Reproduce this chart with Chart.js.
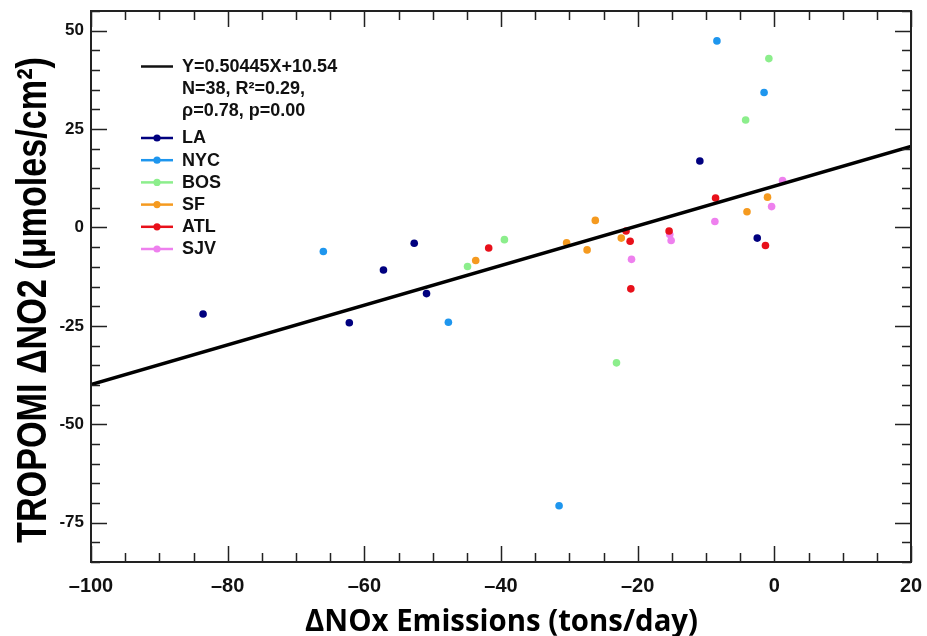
<!DOCTYPE html>
<html>
<head>
<meta charset="utf-8">
<title>TROPOMI ΔNO2 vs ΔNOx</title>
<script src="https://cdn.jsdelivr.net/npm/chart.js@4"></script>
<style>
  html, body { margin: 0; padding: 0; background: #fff; }
  #wrap { width: 927px; height: 636px; position: relative; }
</style>
</head>
<body>
<div id="wrap"><canvas id="chart"></canvas></div>
<script>
'use strict';

// ── Data ──────────────────────────────────────────────────────────────────────

const cities     = ['LA', 'NYC', 'BOS', 'SF', 'ATL', 'SJV'];
const cityColors = ['#00007f', '#1e96ee', '#8cee8c', '#f59a1f', '#e8101a', '#ee80ee'];

const laX  = [-83.6, -62.2, -57.2, -52.7, -50.9, -10.9, -2.5];
const laY  = [-22.0, -24.2, -10.8, -4.0, -16.8, 16.9, -2.7];
const nycX = [-66.0, -47.7, -31.5, -8.4, -1.5];
const nycY = [-6.1, -24.1, -70.7, 47.4, 34.3];
const bosX = [-44.9, -39.5, -23.1, -4.2, -0.8];
const bosY = [-9.9, -3.1, -34.4, 27.3, 42.9];
const sfX  = [-43.7, -30.4, -27.4, -26.2, -22.4, -4.0, -1.0];
const sfY  = [-8.4, -3.9, -5.7, 1.8, -2.7, 4.0, 7.7];
const atlX = [-41.8, -21.7, -21.1, -21.0, -15.4, -8.6, -1.3];
const atlY = [-5.2, -0.9, -3.5, -15.6, -0.9, 7.5, -4.6];
const sjvX = [-20.9, -15.3, -15.1, -8.7, -0.4, 1.2];
const sjvY = [-8.1, -1.8, -3.3, 1.5, 5.3, 11.9];

const fitX = [-100, 20];
const fitY = [-39.9, 20.6];

const fitLabel   = 'Y=0.50445X+10.54';
const statsLines = ['N=38, R\u00b2=0.29,', '\u03c1=0.78, p=0.00'];

const xTicks = [-100, -80, -60, -40, -20, 0, 20];
const yTicks = [-75, -50, -25, 0, 25, 50];

const xTitle = '\u0394NOx Emissions (tons/day)';
const yTitle = 'TROPOMI \u0394NO2 (\u03bcmoles/cm\u00b2)';

// ── Helpers ───────────────────────────────────────────────────────────────────

const $ = id => document.getElementById(id);
const pts = (xs, ys) => xs.map((x, i) => ({ x, y: ys[i] }));

const cityXs = [laX, nycX, bosX, sfX, atlX, sjvX];
const cityYs = [laY, nycY, bosY, sfY, atlY, sjvY];

const SANS = '"Liberation Sans", Arial, Helvetica, sans-serif';

// ── Frame, ticks, legend and titles ───────────────────────────────────────────

const decor = {
  id: 'decor',
  afterDatasetsDraw(chart) {
    const { ctx, chartArea: a, scales: { x, y } } = chart;
    ctx.save();

    // ticks pointing inward on all four sides
    ctx.strokeStyle = '#222';
    ctx.lineWidth = 1.5;
    ctx.beginPath();
    for (let v = x.min; v <= x.max; v += 5) {
      const px = Math.round(x.getPixelForValue(v)) + 0.5;
      const len = v % 20 === 0 ? 16 : 9;
      ctx.moveTo(px, a.bottom); ctx.lineTo(px, a.bottom - len);
      ctx.moveTo(px, a.top);    ctx.lineTo(px, a.top + len);
    }
    for (let v = y.min; v <= y.max; v += 5) {
      const py = Math.round(y.getPixelForValue(v)) + 0.5;
      const len = v % 25 === 0 ? 16 : 9;
      ctx.moveTo(a.left, py);  ctx.lineTo(a.left + len, py);
      ctx.moveTo(a.right, py); ctx.lineTo(a.right - len, py);
    }
    ctx.stroke();

    ctx.lineWidth = 2;
    ctx.strokeRect(a.left, a.top, a.right - a.left, a.bottom - a.top);

    // legend
    const lx0 = 141, lx1 = 173, tx = 182;
    ctx.font = 'bold 18px ' + SANS;
    ctx.textBaseline = 'middle';
    ctx.textAlign = 'left';
    ctx.fillStyle = '#111';

    ctx.strokeStyle = '#111';
    ctx.lineWidth = 2.5;
    ctx.beginPath(); ctx.moveTo(lx0, 66.5); ctx.lineTo(lx1, 66.5); ctx.stroke();
    ctx.fillText(fitLabel, tx, 67);
    ctx.fillText(statsLines[0], tx, 89);
    ctx.fillText(statsLines[1], tx, 111);

    cities.forEach((name, i) => {
      const ry = 138 + i * 22.2;
      ctx.strokeStyle = cityColors[i];
      ctx.lineWidth = 2.5;
      ctx.beginPath(); ctx.moveTo(lx0, ry); ctx.lineTo(lx1, ry); ctx.stroke();
      ctx.fillStyle = cityColors[i];
      ctx.beginPath(); ctx.arc((lx0 + lx1) / 2, ry, 3.6, 0, Math.PI * 2); ctx.fill();
      ctx.fillStyle = '#111';
      ctx.fillText(name, tx, ry + 0.5);
    });

    // axis titles (stretched to the lengths seen in the figure)
    ctx.fillStyle = '#000';
    ctx.textBaseline = 'alphabetic';
    ctx.textAlign = 'left';

    ctx.font = 'bold 30px "Open Sans", sans-serif';
    let w = ctx.measureText(xTitle).width;
    let sx = 393 / w;
    ctx.save();
    ctx.translate(501.5 - 393 / 2, 631);
    ctx.scale(sx, 1);
    ctx.fillText(xTitle, 0, 0);
    ctx.restore();

    ctx.font = 'bold 42px ' + SANS;
    w = ctx.measureText(yTitle).width;
    sx = 486 / w;
    ctx.save();
    ctx.translate(46, 300 + 486 / 2);
    ctx.rotate(-Math.PI / 2);
    ctx.scale(sx, 1);
    ctx.fillText(yTitle, 0, 0);
    ctx.restore();

    ctx.restore();
  },
};

// ── Chart ─────────────────────────────────────────────────────────────────────

const datasets = [{
  type: 'line',
  data: pts(fitX, fitY),
  borderColor: '#000',
  borderWidth: 3.5,
  pointRadius: 0,
  fill: false,
  order: 0,
}];

cities.forEach((name, i) => {
  datasets.push({
    type: 'scatter',
    label: name,
    data: pts(cityXs[i], cityYs[i]),
    backgroundColor: cityColors[i],
    borderWidth: 0,
    pointRadius: 3.8,
    order: 1,
  });
});

// fixed scale boxes so the plot frame lands where it is in the figure
const noPad = s => { s.paddingLeft = 0; s.paddingRight = 0; s.paddingTop = 0; s.paddingBottom = 0; };

new Chart($('chart'), {
  type: 'scatter',
  data: { datasets },
  options: {
    responsive: true,
    maintainAspectRatio: false,
    animation: false,
    layout: { padding: { top: 11, right: 16, left: 0, bottom: 0 } },
    plugins: { legend: { display: false }, tooltip: { enabled: false } },
    scales: {
      x: {
        type: 'linear',
        min: -100,
        max: 20,
        grid: { display: false, drawTicks: false },
        border: { display: false },
        afterBuildTicks: s => { s.ticks = xTicks.map(value => ({ value })); },
        afterFit: s => { s.height = 74; noPad(s); },
        ticks: {
          padding: 12,
          color: '#111',
          font: { family: SANS, size: 20, weight: 'bold' },
          callback: v => (v < 0 ? '\u2013' + Math.abs(v) : String(v)),
        },
      },
      y: {
        type: 'linear',
        min: -85,
        max: 55,
        grid: { display: false, drawTicks: false },
        border: { display: false },
        afterBuildTicks: s => { s.ticks = yTicks.map(value => ({ value })); },
        afterFit: s => { s.width = 91; noPad(s); },
        ticks: {
          padding: 7,
          color: '#111',
          font: { family: SANS, size: 17, weight: 'bold' },
        },
      },
    },
  },
  plugins: [decor],
});
</script>
</body>
</html>
